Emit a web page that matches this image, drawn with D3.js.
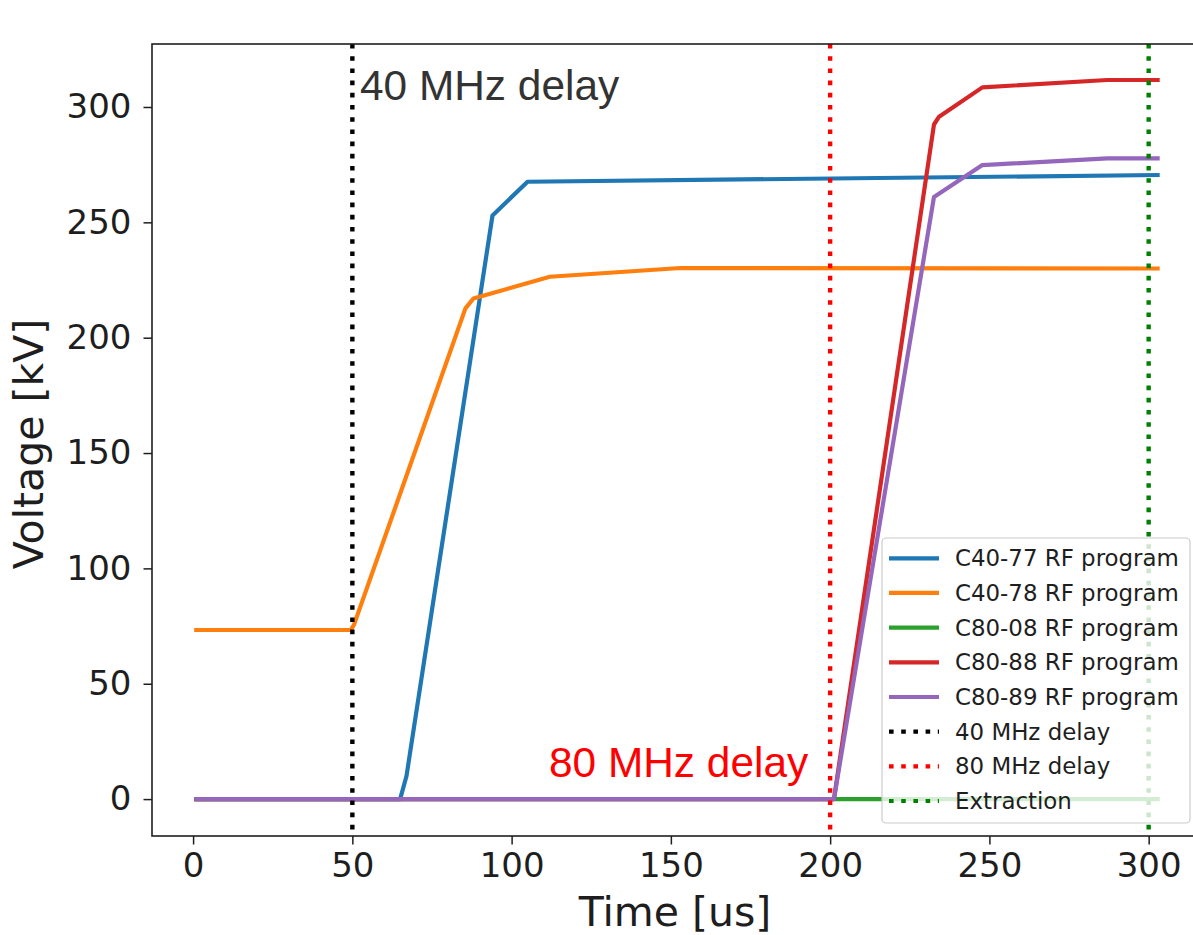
<!DOCTYPE html>
<html>
<head>
<meta charset="utf-8">
<script src="https://cdn.jsdelivr.net/npm/d3@7"></script>
<style>
  html, body { margin: 0; padding: 0; background: #fff; }
  svg { display: block; }
</style>
</head>
<body>
<svg id="chart" width="1193" height="935"></svg>
<script>
// RF voltage programs per cavity: [time in us, voltage in kV]
const c4077 = [[1, 0], [65, 0], [67, 10], [94, 253], [105, 267.6], [302.8, 270.5]];
const c4078 = [[1, 73.3], [49.5, 73.3], [50.5, 75.5], [85.5, 212.7], [88, 217], [112, 226.4], [153, 230.2], [302.8, 230]];
const c8008 = [[1, 0], [302.8, 0]];
const c8088 = [[1, 0], [201.2, 0], [232.6, 292.4], [234.2, 295.8], [247.8, 308.5], [287, 311.7], [302.8, 311.7]];
const c8089 = [[1, 0], [201.2, 0], [232.6, 261], [247.8, 274.8], [287, 277.7], [302.8, 277.7]];

const seriesNames = ["C40-77 RF program", "C40-78 RF program", "C80-08 RF program", "C80-88 RF program", "C80-89 RF program"];
const seriesData = [c4077, c4078, c8008, c8088, c8089];
const seriesColors = ["#1f77b4", "#ff7f0e", "#2ca02c", "#d62728", "#9467bd"];

// Vertical markers (us)
const markerNames = ["40 MHz delay", "80 MHz delay", "Extraction"];
const markerTimes = [50, 200, 300];
const markerColors = ["#000000", "#ff0000", "#008000"];

const xTicks = [0, 50, 100, 150, 200, 250, 300];
const yTicks = [0, 50, 100, 150, 200, 250, 300];

const svg = d3.select("#chart");
const plotLeft = 152, plotRight = 1206, plotTop = 44, plotBottom = 836;

const x = d3.scaleLinear().domain([-12.9, 318]).range([plotLeft, plotRight]);
const y = d3.scaleLinear().domain([-16, 327.3]).range([plotBottom, plotTop]);

const tickFont = "'DejaVu Sans', sans-serif";
const inkColor = "#1e1e1e";

// Clip to the axes area
svg.append("defs").append("clipPath").attr("id", "plotClip")
  .append("rect").attr("x", plotLeft).attr("y", plotTop)
  .attr("width", plotRight - plotLeft).attr("height", plotBottom - plotTop);

const plot = svg.append("g").attr("clip-path", "url(#plotClip)");

const line = d3.line().x(d => x(d[0])).y(d => y(d[1]));

seriesData.forEach((data, i) => {
  plot.append("path")
    .datum(data)
    .attr("d", line)
    .attr("fill", "none")
    .attr("stroke", seriesColors[i])
    .attr("stroke-width", 4.2)
    .attr("stroke-linejoin", "round")
    .attr("stroke-linecap", "square");
});

const dotDash = "4.6,7.6";
markerTimes.forEach((t, i) => {
  plot.append("line")
    .attr("x1", x(t)).attr("x2", x(t))
    .attr("y1", plotTop).attr("y2", plotBottom)
    .attr("stroke", markerColors[i])
    .attr("stroke-width", 4.4)
    .attr("stroke-dasharray", dotDash);
});

// Annotations
svg.append("text")
  .attr("x", 360).attr("y", 99.5)
  .attr("font-family", "'Liberation Sans', Arial, sans-serif")
  .attr("font-size", 42.4)
  .attr("fill", "#333")
  .text("40 MHz delay");

svg.append("text")
  .attr("x", 549).attr("y", 776.5)
  .attr("font-family", "'Liberation Sans', Arial, sans-serif")
  .attr("font-size", 42.4)
  .attr("fill", "#ff0000")
  .text("80 MHz delay");

// Axes
const xAxis = svg.append("g")
  .attr("transform", `translate(0,${plotBottom})`)
  .call(d3.axisBottom(x).tickValues(xTicks).tickSizeOuter(0).tickSize(8.5).tickPadding(8));
const yAxis = svg.append("g")
  .attr("transform", `translate(${plotLeft},0)`)
  .call(d3.axisLeft(y).tickValues(yTicks).tickSizeOuter(0).tickSize(8.5).tickPadding(12));

[xAxis, yAxis].forEach(a => {
  a.select(".domain").remove();
  a.selectAll(".tick line").attr("stroke", inkColor).attr("stroke-width", 1.5);
  a.selectAll(".tick text")
    .attr("font-family", tickFont)
    .attr("font-size", 34)
    .attr("fill", inkColor);
});

// Spines
svg.append("rect")
  .attr("x", plotLeft).attr("y", plotTop)
  .attr("width", plotRight - plotLeft).attr("height", plotBottom - plotTop)
  .attr("fill", "none")
  .attr("stroke", inkColor)
  .attr("stroke-width", 1.6);

// Axis labels
svg.append("text")
  .attr("x", (plotLeft + plotRight) / 2 - 4).attr("y", 926)
  .attr("text-anchor", "middle")
  .attr("font-family", tickFont)
  .attr("font-size", 41)
  .attr("fill", inkColor)
  .text("Time [us]");

svg.append("text")
  .attr("transform", `translate(43,${(plotTop + plotBottom) / 2 + 4}) rotate(-90)`)
  .attr("text-anchor", "middle")
  .attr("font-family", tickFont)
  .attr("font-size", 41)
  .attr("fill", inkColor)
  .text("Voltage [kV]");

// Legend
const legend = svg.append("g");
legend.append("rect")
  .attr("x", 882).attr("y", 538)
  .attr("width", 308).attr("height", 285)
  .attr("rx", 4).attr("ry", 4)
  .attr("fill", "rgba(255,255,255,0.8)")
  .attr("stroke", "#cccccc")
  .attr("stroke-width", 1.2);

const legendItems = seriesNames.map((n, i) => ({ name: n, color: seriesColors[i], dotted: false }))
  .concat(markerNames.map((n, i) => ({ name: n, color: markerColors[i], dotted: true })));

const rowY = d3.scaleLinear().domain([0, 7]).range([558.3, 801]);
legendItems.forEach((item, i) => {
  const cy = rowY(i);
  legend.append("line")
    .attr("x1", 889).attr("x2", 939)
    .attr("y1", cy).attr("y2", cy)
    .attr("stroke", item.color)
    .attr("stroke-width", 4.2)
    .attr("stroke-dasharray", item.dotted ? dotDash : null);
  legend.append("text")
    .attr("x", 955).attr("y", cy + 8)
    .attr("font-family", tickFont)
    .attr("font-size", 22.9)
    .attr("fill", inkColor)
    .text(item.name);
});
</script>
</body>
</html>
